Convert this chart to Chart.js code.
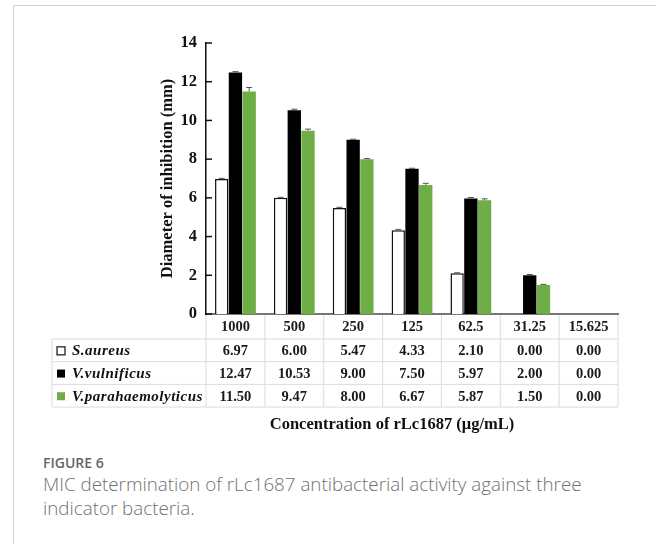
<!DOCTYPE html>
<html>
<head>
<meta charset="utf-8">
<script src="https://cdn.jsdelivr.net/npm/chart.js@4"></script>
<style>
  body { margin: 0; background: #fff; }
  #frame { position: absolute; left: 13px; top: 5px; width: 700px; height: 600px; border: 1px solid #d2d2d2; }
  #wrap { position: absolute; left: 0; top: 0; width: 656px; height: 440px; }
  #fig { position: absolute; left: 43px; top: 453px; font-family: "Open Sans", sans-serif; font-size: 14px; font-weight: 600; color: #666; }
  #cap { position: absolute; left: 43px; top: 472px; font-family: "Open Sans", sans-serif; font-size: 18.8px; font-weight: 300; color: #707070; line-height: 24px; }
</style>
</head>
<body>
<div id="frame"></div>
<div id="wrap"><canvas id="myChart"></canvas></div>
<div id="fig">FIGURE 6</div>
<div id="cap">MIC determination of rLc1687 antibacterial activity against three<br>indicator bacteria.</div>
<script>
const grafico = document.getElementById("myChart");
const concentrations = ['1000', '500', '250', '125', '62.5', '31.25', '15.625'];
const seriesNames = ['S.aureus', 'V.vulnificus', 'V.parahaemolyticus'];
const sAureus = [6.97, 6.00, 5.47, 4.33, 2.10, 0.00, 0.00];
const vVulnificus = [12.47, 10.53, 9.00, 7.50, 5.97, 2.00, 0.00];
const vParahaemolyticus = [11.50, 9.47, 8.00, 6.67, 5.87, 1.50, 0.00];
// error bars
const sAureusErr = [0.04, 0.03, 0.04, 0.04, 0.03, 0, 0];
const vVulnificusErr = [0.05, 0.05, 0.03, 0.03, 0.05, 0.04, 0];
const vParahaemolyticusErr = [0.2, 0.08, 0.03, 0.08, 0.08, 0.03, 0];
const yTicks = [0, 2, 4, 6, 8, 10, 12, 14];

const serif = '"Liberation Serif", "Times New Roman", serif';
const errs = [sAureusErr, vVulnificusErr, vParahaemolyticusErr];

const extras = {
    id: 'extras',
    afterDatasetsDraw(chart) {
        const { ctx, scales: { y } } = chart;
        ctx.save();
        ctx.strokeStyle = '#555';
        ctx.lineWidth = 1;
        chart.data.datasets.forEach((ds, d) => {
            const meta = chart.getDatasetMeta(d);
            meta.data.forEach((bar, i) => {
                const e = errs[d][i];
                if (!e || !ds.data[i]) return;
                const yt = y.getPixelForValue(ds.data[i] + e);
                ctx.beginPath();
                ctx.moveTo(bar.x, bar.y);
                ctx.lineTo(bar.x, yt);
                ctx.moveTo(bar.x - 3, yt);
                ctx.lineTo(bar.x + 3, yt);
                ctx.stroke();
            });
        });
        ctx.restore();
    },
    afterDraw(chart) {
        const { ctx, chartArea, scales: { x, y } } = chart;
        ctx.save();
        // inward y ticks
        ctx.strokeStyle = '#111';
        ctx.lineWidth = 1.5;
        yTicks.forEach(v => {
            const py = y.getPixelForValue(v);
            ctx.beginPath();
            ctx.moveTo(chartArea.left, py);
            ctx.lineTo(chartArea.left + 6, py);
            ctx.stroke();
        });

        // data table
        const half = (x.getPixelForValue(1) - x.getPixelForValue(0)) / 2;
        const top = chartArea.bottom;
        const headH = 25, rowH = 22.7, labelLeft = 52;
        const bottom = top + headH + rowH * 3;
        ctx.strokeStyle = '#dcdcdc';
        ctx.lineWidth = 1;
        for (let r = 0; r <= 3; r++) {
            const py = top + headH + r * rowH;
            ctx.beginPath();
            ctx.moveTo(labelLeft, py);
            ctx.lineTo(chartArea.right, py);
            ctx.stroke();
        }
        ctx.beginPath();
        ctx.moveTo(labelLeft, top + headH);
        ctx.lineTo(labelLeft, bottom);
        for (let i = 0; i <= concentrations.length; i++) {
            const px = x.getPixelForValue(i) - half;
            ctx.moveTo(px, top + 1);
            ctx.lineTo(px, bottom);
        }
        ctx.stroke();

        ctx.fillStyle = '#1a1a1a';
        ctx.textAlign = 'center';
        ctx.textBaseline = 'middle';
        ctx.font = 'bold 14.5px ' + serif;
        concentrations.forEach((c, i) => {
            ctx.fillText(c, x.getPixelForValue(i), top + headH / 2 + 1);
        });
        chart.data.datasets.forEach((ds, d) => {
            const cy = top + headH + rowH * d + rowH / 2 + 1;
            ctx.font = 'bold 14.5px ' + serif;
            ctx.textAlign = 'center';
            ctx.fillStyle = '#1a1a1a';
            ds.data.forEach((v, i) => {
                ctx.fillText(v.toFixed(2), x.getPixelForValue(i), cy);
            });
            // legend key
            ctx.fillStyle = ds.backgroundColor;
            ctx.fillRect(57, cy - 4.5, 8, 8);
            if (d === 0) {
                ctx.strokeStyle = '#111';
                ctx.lineWidth = 1.2;
                ctx.strokeRect(57, cy - 4.5, 8, 8);
            }
            ctx.fillStyle = '#111';
            ctx.textAlign = 'left';
            ctx.font = 'italic bold 15px ' + serif;
            ctx.letterSpacing = '0.5px';
            ctx.fillText(seriesNames[d], 72, cy);
            ctx.letterSpacing = '0px';
        });

        // x axis title
        ctx.fillStyle = '#111';
        ctx.textAlign = 'center';
        ctx.font = 'bold 16.5px ' + serif;
        ctx.fillText('Concentration of rLc1687 (\u03bcg/mL)', 392, 425);
        ctx.restore();
    }
};

const myChart = new Chart(grafico, {
    type: 'bar',
    data: {
        labels: concentrations,
        datasets: [{
            label: seriesNames[0],
            data: sAureus,
            backgroundColor: '#ffffff',
            borderColor: '#111111',
            borderWidth: { top: 1.5, left: 1.5, right: 1.5, bottom: 0 },
            borderSkipped: false
        }, {
            label: seriesNames[1],
            data: vVulnificus,
            backgroundColor: '#000000',
            borderWidth: 0
        }, {
            label: seriesNames[2],
            data: vParahaemolyticus,
            backgroundColor: '#6fad46',
            borderWidth: 0
        }]
    },
    options: {
        responsive: true,
        maintainAspectRatio: false,
        animation: false,
        categoryPercentage: 0.7,
        barPercentage: 0.97,
        layout: { padding: { left: 150, right: 38, top: 43, bottom: 126 } },
        plugins: { legend: { display: false }, tooltip: { enabled: false } },
        scales: {
            x: {
                ticks: { display: false },
                grid: { display: false, drawTicks: false },
                border: { display: true, color: '#777', width: 2 },
                afterFit: s => { s.height = 0; }
            },
            y: {
                min: 0,
                max: 14,
                ticks: {
                    stepSize: 2,
                    padding: 9,
                    color: '#111',
                    font: { family: serif, size: 16.5, weight: 'bold' }
                },
                grid: { display: false, drawTicks: false },
                border: { display: true, color: '#111', width: 1.5 },
                title: {
                    display: true,
                    text: 'Diameter of inhibition (mm)',
                    color: '#111',
                    padding: { top: 8, bottom: 0 },
                    font: { family: serif, size: 16.5, weight: 'bold' }
                },
                afterFit: s => { s.width = 56; }
            }
        }
    },
    plugins: [extras]
});
</script>
</body>
</html>
